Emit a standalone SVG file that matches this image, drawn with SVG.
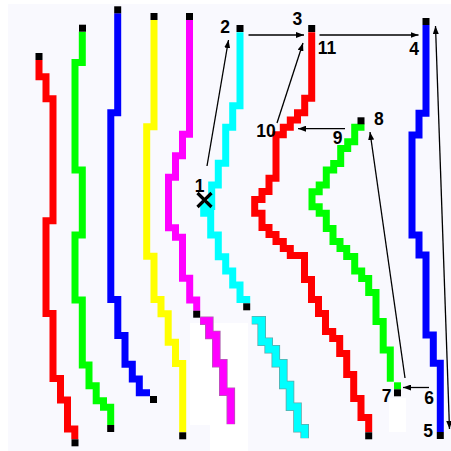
<svg xmlns="http://www.w3.org/2000/svg" width="451" height="451" viewBox="0 0 451 451">
<defs>
<style>
.p{fill:none;stroke-width:7;stroke-linejoin:miter;stroke-linecap:butt}
.o{fill:none;stroke-width:8.6;stroke-linejoin:miter;stroke-linecap:butt}
.k{fill:#000}
.a{fill:none;stroke:#000;stroke-width:1.3}
.t{font-family:"Liberation Sans",Arial,sans-serif;font-weight:bold;font-size:17.5px;fill:#000;text-anchor:middle}
</style>
<marker id="ah" viewBox="0 0 8 6" refX="8" refY="3" markerWidth="8" markerHeight="6" markerUnits="userSpaceOnUse" orient="auto-start-reverse">
<path d="M0,0 L8,3 L0,6 z" fill="#000"/>
</marker>
</defs>
<rect width="451" height="451" fill="#ffffff"/>
<rect x="8" y="4" width="443" height="447" fill="#f9f9fe"/>
<polygon points="190,323 248,323 248,451 210,451 210,425 190,425" fill="#ffffff"/>
<rect x="389" y="398" width="17" height="34" fill="#ffffff"/>

<g id="red1">
<path class="p" stroke="#ff0000" d="M39 60 V76.7 H46 V98.8 H53 V220.7 H46 V313.5 H53 V378.5 H60.5 V400 H67.5 V429 H74.8 V439.3"/>
<rect class="k" x="35.5" y="53" width="7" height="7"/>
<rect class="k" x="71.5" y="439.3" width="7" height="7"/>
</g>
<g id="green2">
<path class="p" stroke="#00ff00" d="M82.3 31.7 V62.5 H75 V170 H82.3 V235 H75 V300 H82.3 V365 H89 V385.7 H96.2 V400.7 H103.5 V407.3 H110.7 V425"/>
<rect class="k" x="79" y="24.7" width="7" height="7"/>
<rect class="k" x="107.2" y="425" width="7" height="7"/>
</g>
<g id="blue3">
<path class="p" stroke="#0000ff" d="M117.7 13.3 V112.7 H110.8 V299.5 H117.8 V335.5 H125 V364.3 H132.3 V379 H139.3 V392.7 H150"/>
<rect class="k" x="114.2" y="6.3" width="7" height="7"/>
<rect class="k" x="150" y="396" width="7" height="7"/>
</g>
<g id="yellow4">
<path class="p" stroke="#ffff00" d="M154 20 V126.7 H146.7 V256.3 H154 V299.5 H161 V313.7 H168.2 V342.3 H175.5 V363.5 H182.7 V432.3"/>
<rect class="k" x="150.5" y="13" width="7" height="7"/>
<rect class="k" x="179.2" y="432.3" width="7" height="7"/>
</g>
<g id="magenta5">
<path class="p" stroke="#ff00ff" d="M189.5 20 V134.2 H182.5 V155.7 H175.5 V177.3 H168.5 V227.7 H175.5 V237.3 H182.5 V278.3 H189.7 V300 H196.7 V310.7"/>
<rect class="k" x="186" y="13" width="7" height="7"/>
<rect class="k" x="193.2" y="310.7" width="7" height="7"/>
<path class="o" stroke="#b060b0" d="M200 320.7 H209.3 V335 H216.3 V363.3 H223.3 V391.7 H230.8 V424.3"/>
<path class="p" stroke="#ff00ff" stroke-width="6.4" d="M200.3 320.7 H209.3 V335 H216.3 V363.3 H223.3 V391.7 H230.8 V424"/>
</g>
<g id="cyan6">
<path class="p" stroke="#00ffff" d="M240 32.3 V105.7 H232.7 V127.3 H225.7 V163.3 H218.3 V185 H211.7 V206.5 H203.7 V213.3 H210.7 V235 H218.3 V256.7 H225.7 V271 H232.7 V285 H240 V299.5 H246.7 V303.3"/>
<rect class="k" x="236.5" y="25" width="7" height="7"/>
<rect class="k" x="243.2" y="303.3" width="7" height="7"/>
<path class="o" stroke="#60a8a8" d="M251.7 320.3 H261.7 V341.7 H268.7 V349.3 H275.8 V363.3 H283.3 V385 H290 V406.7 H297.5 V428.3 H304.7 V438.3"/>
<path class="p" stroke="#00ffff" stroke-width="6.4" d="M252 320.3 H261.7 V341.7 H268.7 V349.3 H275.8 V363.3 H283.3 V385 H290 V406.7 H297.5 V428.3 H304.7 V438"/>
</g>
<g id="red7">
<path class="p" stroke="#ff0000" d="M311.7 32.3 V98.3 H304.7 V112.7 H297.5 V120 H290.3 V127.3 H283.3 V134.7 H276 V178.3 H269 V191.5 H262 V199.5 H254.7 V213.3 H262 V227.5 H269 V234.5 H276 V241.5 H283.3 V248.5 H290.3 V255.5 H304.5 V279.5 H311.5 V299.5 H318.5 V313.5 H325.5 V331.5 H332.7 V338.5 H339.7 V353.5 H346.7 V374.5 H353.7 V398.5 H361 V417.5 H368.7 V432.3"/>
<rect class="k" x="308.2" y="25" width="7" height="7"/>
<rect class="k" x="365.2" y="432.3" width="7" height="7"/>
</g>
<g id="green8">
<path class="p" stroke="#00ff00" d="M364.5 127.3 H354.7 V141.7 H347.7 V148.5 H340.7 V163.5 H333.7 V170 H326.3 V185 H319.2 V191.7 H312 V206.7 H319.2 V213.3 H326.3 V228.5 H333 V241.5 H340 V248.5 H346.7 V256.5 H354.7 V271 H361.7 V278.5 H368.7 V292.5 H376 V321.5 H383.2 V350 H390.3 V381.7"/>
<rect x="394" y="382.3" width="7" height="7" fill="#00ff00"/>
<rect class="k" x="357.5" y="117.3" width="7" height="7"/>
<rect class="k" x="394" y="389.3" width="7" height="7"/>
</g>
<g id="blue9">
<path class="p" stroke="#0000ff" d="M426 25 V113.3 H419 V135 H412 V235 H419 V255 H426 V335 H433.3 V363.3 H440.3 V432"/>
<rect class="k" x="422.5" y="18" width="7" height="7"/>
<rect class="k" x="436.8" y="432" width="7" height="7"/>
</g>

<g id="connectors">
<line class="a" x1="207" y1="166" x2="228.5" y2="40" marker-end="url(#ah)"/>
<line class="a" x1="248.5" y1="35" x2="304" y2="35" marker-end="url(#ah)"/>
<line class="a" x1="319.5" y1="35" x2="418.5" y2="35" marker-end="url(#ah)"/>
<line class="a" x1="449.5" y1="429" x2="435.5" y2="26" marker-start="url(#ah)" marker-end="url(#ah)"/>
<line class="a" x1="429" y1="387.5" x2="403" y2="387.5" marker-end="url(#ah)"/>
<line class="a" x1="405" y1="378" x2="370" y2="132" marker-end="url(#ah)"/>
<line class="a" x1="345" y1="128.7" x2="298" y2="128.7" marker-end="url(#ah)"/>
<line class="a" x1="277" y1="123" x2="303" y2="43" marker-end="url(#ah)"/>
</g>

<g id="mark1">
<path d="M197.5 193 L211.5 207 M211.5 193 L197.5 207" stroke="#000" stroke-width="3.2" fill="none"/>
</g>
<g id="labels">
<text class="t" x="199.5" y="191.5">1</text>
<text class="t" x="225" y="33.3">2</text>
<text class="t" x="297.3" y="25">3</text>
<text class="t" x="327" y="53.5">11</text>
<text class="t" x="414" y="55">4</text>
<text class="t" x="428" y="436.5">5</text>
<text class="t" x="429" y="404">6</text>
<text class="t" x="386.7" y="401.5">7</text>
<text class="t" x="378.8" y="125">8</text>
<text class="t" x="337.5" y="143.5">9</text>
<text class="t" x="266" y="136.5">10</text>
</g>
</svg>
